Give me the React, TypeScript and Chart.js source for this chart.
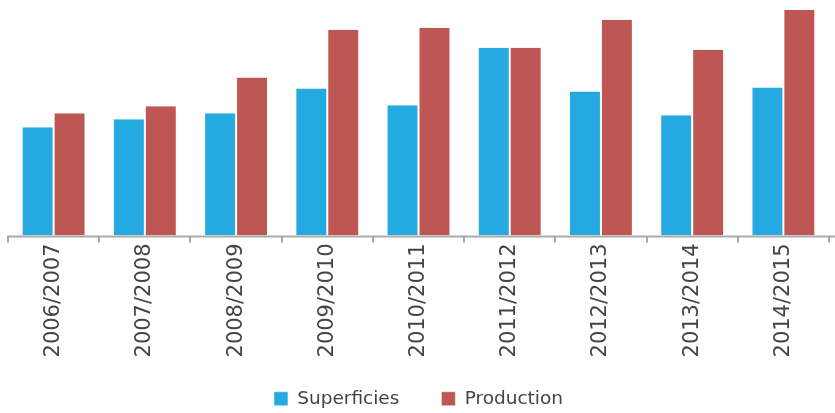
import React, { useEffect, useRef } from "react";
import { Chart, registerables } from "chart.js";

Chart.register(...registerables);

const categories = [
  "2006/2007",
  "2007/2008",
  "2008/2009",
  "2009/2010",
  "2010/2011",
  "2011/2012",
  "2012/2013",
  "2013/2014",
  "2014/2015",
];
const superficies = [109, 117, 123, 148, 131, 189, 145, 121, 149];
const production = [123, 130, 159, 207, 209, 189, 217, 187, 227];

const axisExtend = {
  id: "axisExtend",
  afterDatasetsDraw(chart: any) {
    const { ctx, chartArea, width } = chart;
    ctx.save();
    ctx.strokeStyle = "#aaaaaa";
    ctx.lineWidth = 2;
    ctx.beginPath();
    ctx.moveTo(chartArea.left - 1, chartArea.bottom + 1);
    ctx.lineTo(width, chartArea.bottom + 1);
    ctx.stroke();
    ctx.restore();
  },
};

export default function App() {
  const ref = useRef<HTMLCanvasElement | null>(null);
  useEffect(() => {
    document.body.style.margin = "0";
    const ctx = ref.current!;
    const chart = new Chart(ctx, {
      type: "bar",
      data: {
        labels: categories,
        datasets: [
          {
            label: "Superficies",
            data: superficies,
            backgroundColor: "#25A9E1",
            borderColor: "#ffffff",
            borderWidth: { left: 1, right: 1, top: 0, bottom: 0 },
            borderSkipped: false,
            barPercentage: 1,
            categoryPercentage: 0.7,
          },
          {
            label: "Production",
            data: production,
            backgroundColor: "#BE5753",
            borderColor: "#ffffff",
            borderWidth: { left: 1, right: 1, top: 0, bottom: 0 },
            borderSkipped: false,
            barPercentage: 1,
            categoryPercentage: 0.7,
          },
        ],
      },
      options: {
        responsive: false,
        animation: false,
        layout: { padding: { left: 8, right: 6, top: 0, bottom: -5 } },
        scales: {
          y: { display: false, min: 0, max: 237 },
          x: {
            afterFit: (s: any) => {
              s.height = 112;
              s._computeLabelArea = () => undefined;
            },
            grid: {
              drawOnChartArea: false,
              drawTicks: true,
              tickLength: 7,
              color: "#aaaaaa",
              lineWidth: 2,
            },
            border: { display: false },
            ticks: {
              maxRotation: 90,
              minRotation: 90,
              color: "#444444",
              font: { family: "DejaVu Sans", size: 21 },
              padding: 1,
            },
          },
        } as any,
        plugins: {
          tooltip: { enabled: false },
          legend: {
            position: "bottom",
            labels: {
              boxWidth: 14,
              boxHeight: 14,
              color: "#444444",
              font: { family: "DejaVu Sans", size: 18.5 },
              padding: 42,
            },
          },
        },
      },
      plugins: [axisExtend],
    });
    return () => chart.destroy();
  }, []);
  return <canvas ref={ref} width={835} height={413} style={{ display: "block" }} />;
}
